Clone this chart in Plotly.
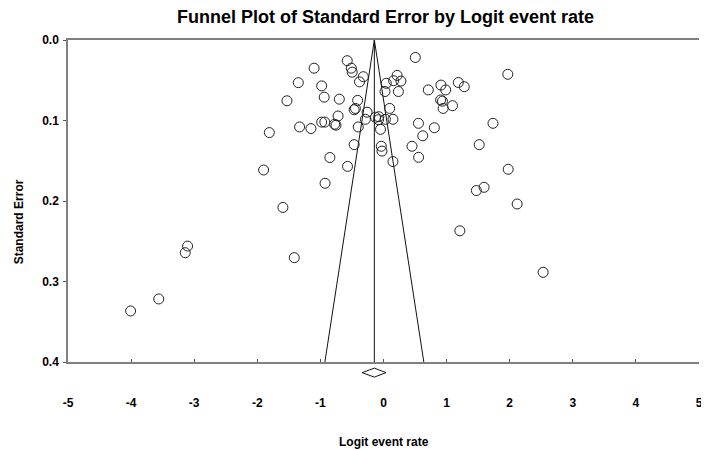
import plotly.graph_objects as go

# ---- data ----
logit_rate = [
    -1.81, -1.53, -1.35, -1.10, -1.33, -1.15, -0.98, -0.94, -0.70, -0.575,
    -0.51, -0.496, -0.38, -0.32, -0.41, -0.465, -0.445, -0.72, -0.98, -0.93,
    -0.775, -0.753, -0.40, -0.26, -0.287, -0.126, -0.074, -0.079, -0.047, -0.465,
    -0.035, -0.024, -0.85, -0.57,
    0.044, 0.024, 0.216, 0.16, 0.276, 0.236, 0.098, 0.03, 0.15, 0.15,
    0.504, 0.71, 0.91, 0.985, 1.186, 1.28, 0.905, 0.934, 0.945, 1.094,
    0.554, 0.806, 0.622, 0.452, 0.556, 1.735, 1.517, 1.97, 1.976, 2.118,
    1.472, 1.594, 1.21, 2.53,
    -1.90, -1.594, -0.926, -1.414, -3.105, -3.142, -3.562, -4.008,
]
std_error = [
    0.115, 0.0755, 0.053, 0.035, 0.108, 0.110, 0.057, 0.071, 0.0735, 0.0257,
    0.035, 0.040, 0.052, 0.0456, 0.075, 0.0866, 0.085, 0.0944, 0.102, 0.102,
    0.1046, 0.1058, 0.108, 0.0897, 0.0985, 0.096, 0.0953, 0.099, 0.111, 0.130,
    0.132, 0.138, 0.146, 0.157,
    0.0538, 0.064, 0.044, 0.0506, 0.051, 0.064, 0.085, 0.0985, 0.0985, 0.151,
    0.0217, 0.062, 0.056, 0.062, 0.0528, 0.058, 0.0745, 0.076, 0.085, 0.0816,
    0.1035, 0.109, 0.119, 0.132, 0.1457, 0.1035, 0.130, 0.0426, 0.1606, 0.2037,
    0.187, 0.183, 0.237, 0.2886,
    0.1615, 0.208, 0.178, 0.2704, 0.256, 0.2642, 0.3217, 0.3366,
]
pooled_logit = -0.145
pooled_ci_low = -0.339
pooled_ci_high = 0.039
se_max = 0.4
z_crit = 1.96

x_tickvals = [-5, -4, -3, -2, -1, 0, 1, 2, 3, 4, 5]
x_ticktext = ["-5", "-4", "-3", "-2", "-1", "0", "1", "2", "3", "4", "5"]
y_tickvals = [0.0, 0.1, 0.2, 0.3, 0.4]
y_ticktext = ["0.0", "0.1", "0.2", "0.3", "0.4"]

FONT = "Liberation Sans, Arial, sans-serif"

# the page body adds an 8px offset, so the figure is 8px smaller than the window
W, H = 701, 442
ML, MT = 60, 32
PLOT_W, PLOT_H = 635, 322

fig = go.Figure()

# funnel (pseudo 95% confidence limits)
fig.add_trace(go.Scatter(
    x=[pooled_logit - z_crit * se_max, pooled_logit, pooled_logit + z_crit * se_max],
    y=[se_max, 0, se_max],
    mode="lines", line=dict(color="#111111", width=1), hoverinfo="skip",
))
fig.add_trace(go.Scatter(
    x=[pooled_logit, pooled_logit], y=[0, se_max],
    mode="lines", line=dict(color="#111111", width=1), hoverinfo="skip",
))

# studies
fig.add_trace(go.Scatter(
    x=logit_rate, y=std_error, mode="markers",
    marker=dict(symbol="circle-open", size=10, color="#222222",
                line=dict(width=1, color="#222222")),
))

# pooled estimate diamond below the axis
y_mid, y_half = -0.033, 0.014
fig.add_shape(
    type="path", xref="x", yref="paper",
    path=(f"M {pooled_ci_low},{y_mid} L {pooled_logit},{y_mid + y_half} "
          f"L {pooled_ci_high},{y_mid} L {pooled_logit},{y_mid - y_half} Z"),
    line=dict(color="#111111", width=1), fillcolor="white",
)

fig.update_layout(
    width=W, height=H,
    margin=dict(l=ML, r=6, t=MT, b=88),
    paper_bgcolor="white", plot_bgcolor="white",
    showlegend=False,
    font=dict(family=FONT, size=12, color="black"),
    title=dict(
        text="<b>Funnel Plot of Standard Error by Logit event rate</b>",
        x=(ML + PLOT_W / 2) / W, xanchor="center", y=1 - 9 / H, yanchor="middle",
        font=dict(family=FONT, size=18, color="black"),
    ),
)

fig.update_xaxes(
    range=[-5, 5], tickmode="array", tickvals=x_tickvals, ticktext=x_ticktext,
    showgrid=False, zeroline=False,
    showline=True, linecolor="#7f7f7f", linewidth=1.5, mirror=True,
    ticks="inside", ticklen=3, tickcolor="#555555",
    tickfont=dict(family=FONT, size=12, color="black", weight="bold"),
    ticklabelstandoff=29,
)
fig.update_yaxes(
    range=[se_max, 0], tickmode="array", tickvals=y_tickvals, ticktext=y_ticktext,
    showgrid=False, zeroline=False,
    showline=True, linecolor="#7f7f7f", linewidth=1.5, mirror=False,
    ticks="outside", ticklen=3, tickcolor="#555555",
    tickfont=dict(family=FONT, size=12, color="black", weight="bold"),
    ticklabelstandoff=2,
)

# axis titles (page coordinates converted to plot-area fractions)
fig.add_annotation(
    text="<b>Logit event rate</b>", xref="paper", yref="paper",
    x=0.5, y=-(442 - 362) / PLOT_H, xanchor="center", yanchor="middle",
    showarrow=False, font=dict(family=FONT, size=12, color="black"),
)
fig.add_annotation(
    text="<b>Standard Error</b>", xref="paper", yref="paper",
    x=-(68 - 19) / PLOT_W, y=1 - (222 - 40) / PLOT_H,
    xanchor="center", yanchor="middle", textangle=-90,
    showarrow=False, font=dict(family=FONT, size=12, color="black"),
)

fig.write_html("out.html")
